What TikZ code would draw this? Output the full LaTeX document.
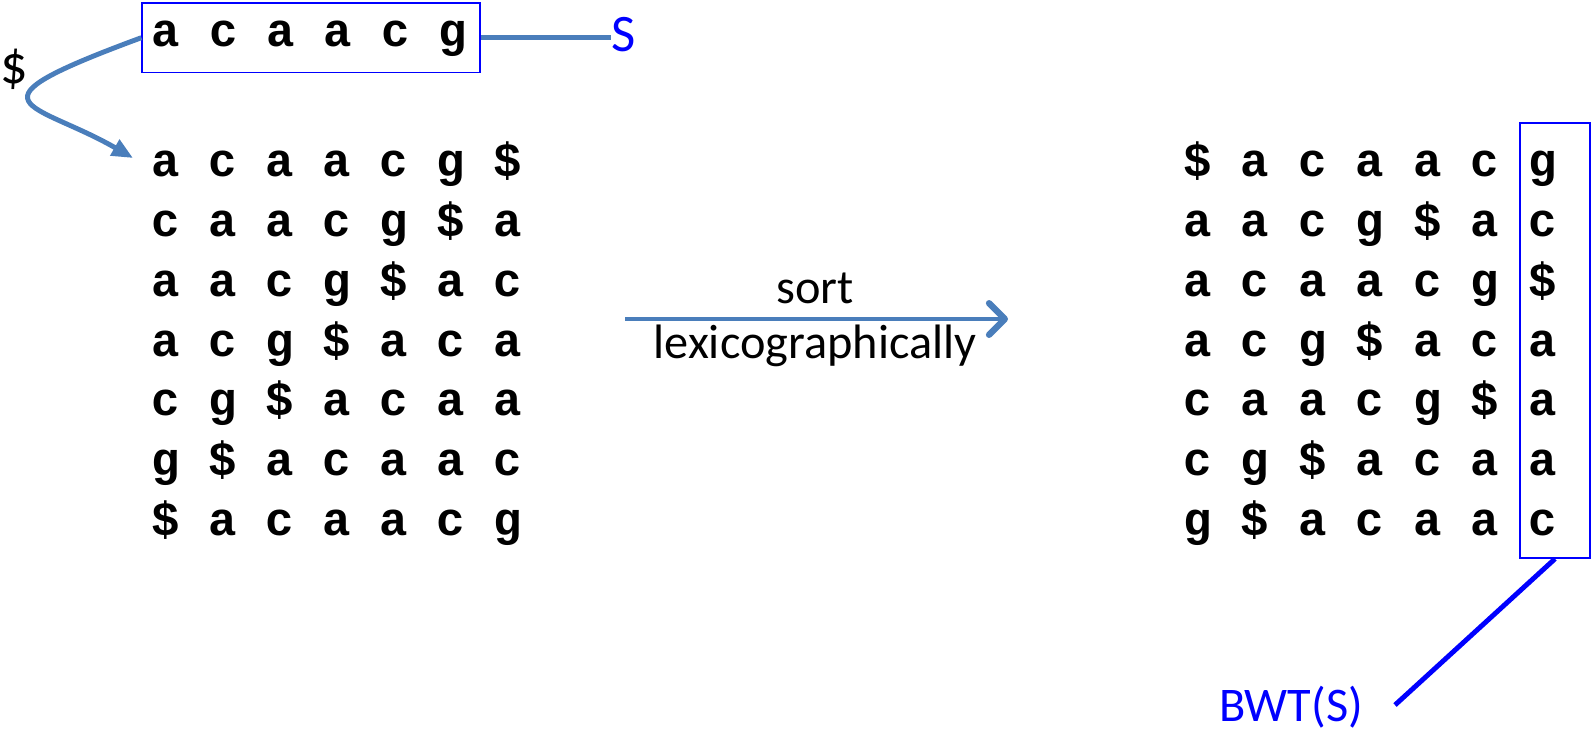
\documentclass[tikz,border=0pt]{standalone}
\usepackage{fontspec}
\setmainfont{Carlito}
\newfontfamily\codefont{Liberation Mono}
\usetikzlibrary{arrows.meta}
\definecolor{flowblue}{RGB}{74,126,187}
\definecolor{labelblue}{RGB}{0,0,255}
\tikzset{>=Stealth,
  ch/.style={font=\codefont\bfseries\fontsize{27}{27}\selectfont,inner sep=0pt,anchor=base},
  txt/.style={font=\fontsize{27.5}{29}\selectfont,inner sep=0pt},
  flow/.style={draw=flowblue,line width=2.8pt},
  thinbox/.style={draw=labelblue,line width=1pt,inner sep=0pt}}

\begin{document}
\begin{tikzpicture}[x=0.02cm,y=-0.02cm]
\useasboundingbox (0,0) rectangle (1591,733);
% the string S in its box
\foreach \ch [count=\j] in {a,c,a,a,c,g}
  \node[ch] (T-\j) at ({166+57.4*(\j-1)},47) {\ch};
\node[thinbox,minimum width=192.4pt,minimum height=39.7pt] (sbox) at (311.3,37.7) {};
\node[txt,text=labelblue,anchor=base west,font=\fontsize{30}{30}\selectfont] (slabel) at (611,52) {S};
\draw[flow] (sbox.east) -- (slabel.west |- sbox.east);
% append $ and rotate
\node[txt,font=\fontsize{31}{31}\selectfont] (dollar) at (14,69) {\$};
\coordinate (tip) at (133,158);
\draw[flow,-{Triangle[length=12pt,width=10pt]}] (sbox.west) .. controls (-44,106) and (34,101) .. (tip);
\foreach \row [count=\i] in {{a,c,a,a,c,g,\$},{c,a,a,c,g,\$,a},{a,a,c,g,\$,a,c},{a,c,g,\$,a,c,a},{c,g,\$,a,c,a,a},{g,\$,a,c,a,a,c},{\$,a,c,a,a,c,g}}
  \foreach \ch [count=\j] in \row
    \node[ch] (L-\i-\j) at ({166+57*(\j-1)},{177+59.7*(\i-1)}) {\ch};
% sorting step
\coordinate (sortA) at (625,319);
\coordinate (sortB) at (1008,319);
\draw[flow,-{Straight Barb[length=9pt,width=18pt,line width=3.6pt,round]}] (sortA) -- (sortB);
\node[txt,anchor=base] (sort) at (815,303) {sort};
\node[txt,anchor=base] (lex) at (815,358) {lexicographically};
% sorted rotations
\foreach \row [count=\i] in {{\$,a,c,a,a,c,g},{a,a,c,g,\$,a,c},{a,c,a,a,c,g,\$},{a,c,g,\$,a,c,a},{c,a,a,c,g,\$,a},{c,g,\$,a,c,a,a},{g,\$,a,c,a,a,c}}
  \foreach \ch [count=\j] in \row
    \node[ch] (R-\i-\j) at ({1197.5+57.5*(\j-1)},{177+59.7*(\i-1)}) {\ch};
\node[thinbox,minimum width=39.7pt,minimum height=247.7pt] (bwtbox) at (1555,340.3) {};
\node[txt,text=labelblue,anchor=base] (bwt) at (1291,721) {BWT(S)};
\coordinate (bwtend) at (1395,705);
\draw[draw=labelblue,line width=2.8pt] (bwtbox.south) -- (bwtend);
\end{tikzpicture}
\end{document}
